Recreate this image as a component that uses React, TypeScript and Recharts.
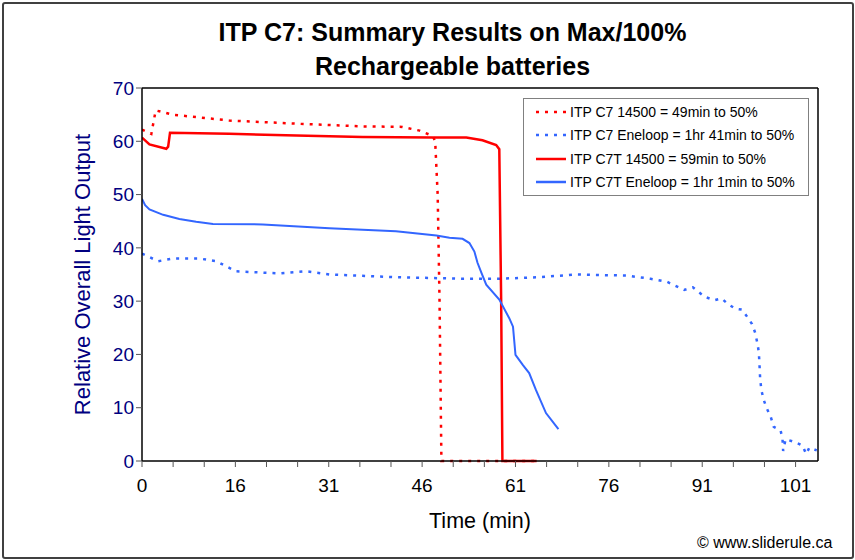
import React from "react";
import { LineChart, Line, XAxis, YAxis, Legend, ReferenceLine } from "recharts";

// x = minutes position along the time axis, y = relative light output
const c7_14500 = [
  { x: 0, y: 62.2 }, { x: 1.5, y: 61.4 }, { x: 2.2, y: 65.8 }, { x: 4.9, y: 65.0 },
  { x: 14, y: 63.9 }, { x: 24.8, y: 63.3 }, { x: 35.4, y: 62.8 }, { x: 41.8, y: 62.7 },
  { x: 44.6, y: 62.0 }, { x: 46.7, y: 61.0 }, { x: 47.1, y: 60 }, { x: 47.5, y: 50 },
  { x: 47.8, y: 30 }, { x: 48.1, y: 0 }, { x: 63.4, y: 0 },
];

const c7Eneloop = [
  { x: 0, y: 38.9 }, { x: 2.6, y: 37.5 }, { x: 5, y: 38 }, { x: 9.2, y: 38 }, { x: 11.9, y: 37.5 },
  { x: 15.1, y: 35.6 }, { x: 22.1, y: 35.2 }, { x: 26.4, y: 35.6 }, { x: 30.1, y: 35 },
  { x: 40.8, y: 34.5 }, { x: 51.5, y: 34.2 }, { x: 57.4, y: 34.2 }, { x: 63.8, y: 34.5 },
  { x: 69.7, y: 35 }, { x: 73.6, y: 34.9 }, { x: 77.9, y: 34.8 }, { x: 81.7, y: 34.2 },
  { x: 84.4, y: 33.6 }, { x: 87.1, y: 32.1 }, { x: 88.5, y: 32.6 }, { x: 90.4, y: 30.8 },
  { x: 92, y: 30.2 }, { x: 93.1, y: 30.5 }, { x: 94.2, y: 29.4 }, { x: 95.3, y: 28.6 },
  { x: 96.4, y: 28.4 }, { x: 97.2, y: 27.1 }, { x: 98, y: 25.7 }, { x: 98.5, y: 24.1 },
  { x: 98.9, y: 21.9 }, { x: 99.1, y: 20.3 }, { x: 99.2, y: 18.1 }, { x: 99.3, y: 15.6 },
  { x: 99.5, y: 13.3 }, { x: 99.9, y: 11.4 }, { x: 100.4, y: 9.8 }, { x: 101, y: 8.3 },
  { x: 101.5, y: 6.4 }, { x: 102.6, y: 5.7 }, { x: 102.9, y: 4.1 }, { x: 103, y: 1.9 },
  { x: 103.4, y: 4.1 }, { x: 105, y: 3.5 }, { x: 106.1, y: 2.9 }, { x: 106.7, y: 1.3 },
  { x: 107.2, y: 2.5 }, { x: 108.4, y: 2 },
];

const c7t_14500 = [
  { x: 0, y: 60.7 }, { x: 1.2, y: 59.4 }, { x: 3.9, y: 58.6 }, { x: 4.2, y: 59 }, { x: 4.5, y: 61.6 },
  { x: 14, y: 61.4 }, { x: 24.8, y: 61.1 }, { x: 35.4, y: 60.8 }, { x: 46.7, y: 60.7 },
  { x: 52.1, y: 60.7 }, { x: 54.7, y: 60.2 }, { x: 56.9, y: 59.3 }, { x: 57.4, y: 58.5 },
  { x: 57.7, y: 30 }, { x: 57.9, y: 0 }, { x: 63.4, y: 0 },
];

const c7tEneloop = [
  { x: 0, y: 49.2 }, { x: 0.5, y: 48 }, { x: 1.2, y: 47.2 }, { x: 3.4, y: 46.2 }, { x: 6, y: 45.4 },
  { x: 8.7, y: 44.9 }, { x: 11.4, y: 44.5 }, { x: 19.4, y: 44.4 }, { x: 30.1, y: 43.7 },
  { x: 40.8, y: 43.1 }, { x: 47.3, y: 42.3 }, { x: 49.4, y: 41.9 }, { x: 51.5, y: 41.7 },
  { x: 52.6, y: 40.9 }, { x: 53.4, y: 39.3 }, { x: 53.9, y: 37.2 }, { x: 54.5, y: 35.4 },
  { x: 55.3, y: 33.1 }, { x: 57.4, y: 30.3 }, { x: 59, y: 26.8 }, { x: 59.6, y: 25.2 },
  { x: 60, y: 19.9 }, { x: 61.2, y: 18 }, { x: 62.2, y: 16.5 }, { x: 63.3, y: 13.3 },
  { x: 64.9, y: 9 }, { x: 66.9, y: 6 },
];

const xTickPositions = [0, 5, 10, 15, 20, 25, 30, 35, 40, 45, 50, 55, 60, 65, 70, 75, 80, 85, 90, 95, 100, 105];
const xTickLabels = ["0", "16", "31", "46", "61", "76", "91", "101"];
const yTicks = [0, 10, 20, 30, 40, 50, 60, 70];

const seriesNames = [
  "ITP C7 14500 = 49min to 50%",
  "ITP C7 Eneloop = 1hr 41min to 50%",
  "ITP C7T 14500 = 59min to 50%",
  "ITP C7T Eneloop = 1hr 1min to 50%",
];

const RED = "#FF0000";
const BLUE = "#3366FF";
const FONT = "'Liberation Sans', Arial, Helvetica, sans-serif";
const X_MAX = 108.6;

const legendItems = [
  { name: seriesNames[0], color: RED, dash: "3 6" },
  { name: seriesNames[1], color: BLUE, dash: "3 6" },
  { name: seriesNames[2], color: RED, dash: undefined },
  { name: seriesNames[3], color: BLUE, dash: undefined },
];

const renderLegend = () => (
  <div
    style={{
      width: 284,
      height: 95,
      border: "1px solid #808080",
      background: "#fff",
      boxSizing: "content-box",
      paddingTop: 1,
      fontFamily: FONT,
      fontSize: 14,
      color: "#000",
    }}
  >
    {legendItems.map((it, i) => (
      <div key={i} style={{ display: "flex", alignItems: "center", height: 23.5 }}>
        <svg width={46} height={10} style={{ flex: "none" }}>
          <line x1={12} y1={5} x2={42} y2={5} stroke={it.color} strokeWidth={2.5} strokeDasharray={it.dash} />
        </svg>
        <span style={{ whiteSpace: "nowrap" }}>{it.name}</span>
      </div>
    ))}
  </div>
);

const xTickFormatter = (v: number) => {
  const idx = xTickPositions.indexOf(v);
  if (idx >= 0 && idx % 3 === 0) return xTickLabels[idx / 3];
  return "";
};

export default function App() {
  return (
    <div
      style={{
        position: "absolute",
        left: 0,
        top: 0,
        width: 855,
        height: 560,
        background: "#fff",
        fontFamily: FONT,
      }}
    >
      <div
        style={{
          position: "absolute",
          left: 2,
          top: 2,
          width: 848,
          height: 553,
          border: "2px solid #404040",
          borderRadius: 3,
          boxSizing: "content-box",
        }}
      />
      <div
        style={{
          position: "absolute",
          left: 0,
          top: 15,
          width: 905,
          textAlign: "center",
          fontWeight: "bold",
          fontSize: 25,
          lineHeight: "34px",
          color: "#000",
        }}
      >
        ITP C7: Summary Results on Max/100%
        <br />
        Rechargeable batteries
      </div>
      <div style={{ position: "absolute", left: 0, top: 0 }}>
        <LineChart
          width={855}
          height={560}
          margin={{ top: 88, right: 37, bottom: 69, left: 82 }}
          style={{ fontFamily: FONT }}
        >
          <XAxis
            type="number"
            dataKey="x"
            domain={[0, X_MAX]}
            ticks={xTickPositions}
            interval={0}
            tickFormatter={xTickFormatter}
            allowDataOverflow
            height={30}
            tickSize={6}
            tickMargin={12}
            axisLine={{ stroke: "#000", strokeWidth: 1.5 }}
            tickLine={{ stroke: "#555" }}
            tick={{ fill: "#000", fontSize: 19 }}
            label={{ value: "Time (min)", position: "insideBottom", offset: -37, fill: "#000", fontSize: 21.5 }}
          />
          <YAxis
            type="number"
            domain={[0, 70]}
            ticks={yTicks}
            interval={0}
            width={60}
            tickSize={6}
            tickMargin={2}
            axisLine={{ stroke: "#000", strokeWidth: 1.5 }}
            tickLine={{ stroke: "#555" }}
            tick={{ fill: "#000080", fontSize: 19 }}
            label={{
              value: "Relative Overall Light Output",
              angle: -90,
              position: "insideLeft",
              offset: 0,
              dx: 0,
              style: { textAnchor: "middle", fill: "#000080", fontSize: 22 },
            }}
          />
          <ReferenceLine y={70} stroke="#000" strokeWidth={1.5} />
          <ReferenceLine x={X_MAX} stroke="#000" strokeWidth={1.5} />
          <Legend
            layout="vertical"
            align="center"
            verticalAlign="middle"
            content={renderLegend}
            wrapperStyle={{ position: "absolute", left: 523, top: 98, width: 286 }}
          />
          <Line
            data={c7_14500}
            dataKey="y"
            name={seriesNames[0]}
            type="linear"
            stroke={RED}
            strokeWidth={2.5}
            strokeDasharray="3 6"
            dot={false}
            isAnimationActive={false}
          />
          <Line
            data={c7Eneloop}
            dataKey="y"
            name={seriesNames[1]}
            type="linear"
            stroke={BLUE}
            strokeWidth={2.5}
            strokeDasharray="3 6"
            dot={false}
            isAnimationActive={false}
          />
          <Line
            data={c7t_14500}
            dataKey="y"
            name={seriesNames[2]}
            type="linear"
            stroke={RED}
            strokeWidth={2.5}
            dot={false}
            isAnimationActive={false}
          />
          <Line
            data={c7tEneloop}
            dataKey="y"
            name={seriesNames[3]}
            type="linear"
            stroke={BLUE}
            strokeWidth={2}
            dot={false}
            isAnimationActive={false}
          />
        </LineChart>
      </div>
      <div
        style={{
          position: "absolute",
          left: 697,
          top: 534,
          fontSize: 16,
          color: "#000",
          whiteSpace: "nowrap",
        }}
      >
        © www.sliderule.ca
      </div>
    </div>
  );
}
